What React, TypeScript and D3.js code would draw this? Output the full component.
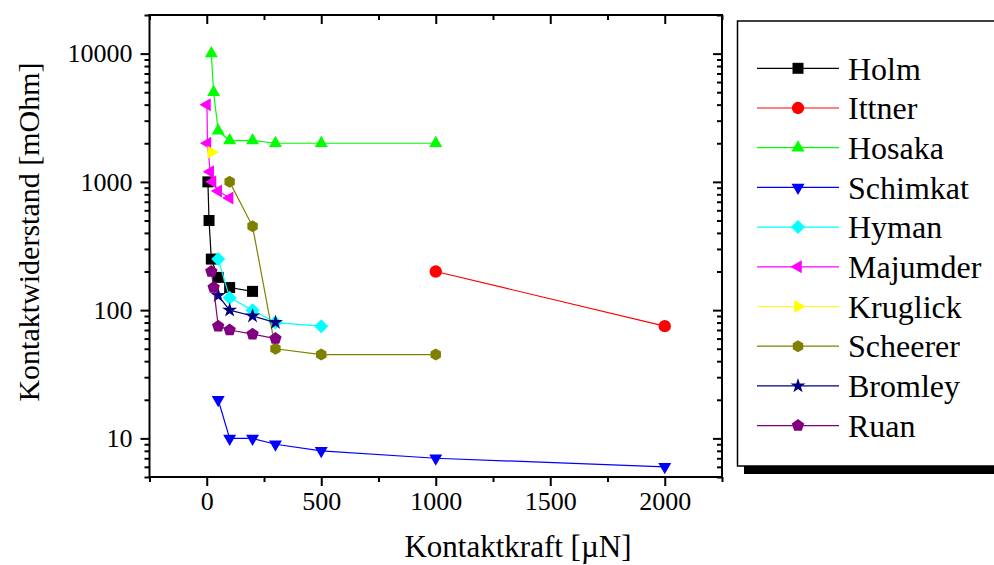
import React, { useEffect, useRef } from 'react';
import * as d3 from 'd3';

// series names and colours, in legend order
const names = ['Holm', 'Ittner', 'Hosaka', 'Schimkat', 'Hyman', 'Majumder', 'Kruglick', 'Scheerer', 'Bromley', 'Ruan'];
const colors = ['#000000', '#ff0000', '#00ff00', '#0000ff', '#00ffff', '#ff00ff', '#ffff00', '#808000', '#000080', '#800080'];
const shapes = ['square', 'circle', 'up', 'down', 'diamond', 'left', 'right', 'hexagon', 'star', 'pentagon'];

// [Kontaktkraft µN, Kontaktwiderstand mOhm]
const holm = [[5, 1000], [10, 500], [20, 250], [50, 180], [100, 150], [200, 140]];
const ittner = [[1000, 200], [2000, 75]];
const hosaka = [[20, 10000], [30, 5000], [50, 2500], [100, 2100], [200, 2100], [300, 2000], [500, 2000], [1000, 2000]];
const schimkat = [[50, 20], [100, 10], [200, 10], [300, 9], [500, 8], [1000, 7], [2000, 6]];
const hyman = [[50, 250], [100, 125], [200, 100], [300, 80], [500, 75]];
const majumder = [[1, 4000], [3, 2000], [15, 1200], [25, 1000], [50, 850], [100, 750]];
const kruglick = [[20, 1700]];
const scheerer = [[100, 1000], [200, 450], [300, 50], [500, 45], [1000, 45]];
const bromley = [[50, 130], [100, 100], [200, 90], [300, 80]];
const ruan = [[20, 200], [30, 150], [50, 75], [100, 70], [200, 65], [300, 60]];

const allSeries = [holm, ittner, hosaka, schimkat, hyman, majumder, kruglick, scheerer, bromley, ruan];

const xMajor = [0, 500, 1000, 1500, 2000];
const xMinor = [-250, 250, 750, 1250, 1750, 2250];
const yMajor = [10, 100, 1000, 10000];

const font = "'Liberation Serif', 'DejaVu Serif', 'Noto Serif', Tinos, FreeSerif, 'Times New Roman', Times, serif";

// regular polygon path around 0,0
function poly(n, r, start) {
    const pts = d3.range(n).map(i => {
        const a = start + (i * 2 * Math.PI) / n;
        return [r * Math.cos(a), r * Math.sin(a)];
    });
    return 'M' + pts.map(p => p.join(',')).join('L') + 'Z';
}

function markerPath(shape) {
    switch (shape) {
        case 'square': return 'M-5.5,-5.5H5.5V5.5H-5.5Z';
        case 'circle': return d3.symbol(d3.symbolCircle, 120)();
        case 'up': return poly(3, 7.5, -Math.PI / 2);
        case 'down': return poly(3, 7.5, Math.PI / 2);
        case 'left': return poly(3, 7.5, Math.PI);
        case 'right': return poly(3, 7.5, 0);
        case 'diamond': return poly(4, 7, 0);
        case 'hexagon': return poly(6, 6, -Math.PI / 2);
        case 'pentagon': return poly(5, 6.5, -Math.PI / 2);
        case 'star': return d3.symbol(d3.symbolStar, 70)();
        default: return '';
    }
}

function Chart() {
    const ref = useRef();

    useEffect(() => {
        const svg = d3.select(ref.current);
        svg.selectAll('*').remove();

        const left = 149.5, right = 722, top = 15, bottom = 477;

        const x = d3.scaleLinear().domain([-250, 2250]).range([left, right]);
        const y = d3.scaleLog().domain([5, 20000]).range([bottom, top]);

        const yMinor = [];
        [1, 10, 100, 1000, 10000].forEach(dec => {
            for (let k = 2; k <= 9; k++) {
                const v = k * dec;
                if (v >= 5 && v <= 20000 && !yMajor.includes(v)) yMinor.push(v);
            }
        });

        const styleAxis = g => {
            g.attr('font-family', null).style('font-family', font).attr('font-size', 26);
            g.select('.domain').remove();
            g.selectAll('line').attr('stroke', '#000').attr('stroke-width', 2);
            g.selectAll('text').attr('fill', '#000');
        };

        // bottom
        svg.append('g').attr('transform', `translate(0,${bottom})`)
            .call(d3.axisBottom(x).tickValues(xMajor).tickFormat(d3.format('d')).tickSizeInner(9).tickSizeOuter(0).tickPadding(6))
            .call(styleAxis);
        svg.append('g').attr('transform', `translate(0,${bottom})`)
            .call(d3.axisBottom(x).tickValues(xMinor).tickSizeInner(5).tickSizeOuter(0).tickFormat(''))
            .call(styleAxis);
        // top, ticks inward
        svg.append('g').attr('transform', `translate(0,${top})`)
            .call(d3.axisBottom(x).tickValues(xMajor).tickSizeInner(9).tickSizeOuter(0).tickFormat(''))
            .call(styleAxis);
        svg.append('g').attr('transform', `translate(0,${top})`)
            .call(d3.axisBottom(x).tickValues(xMinor).tickSizeInner(5).tickSizeOuter(0).tickFormat(''))
            .call(styleAxis);
        // left
        svg.append('g').attr('transform', `translate(${left},0)`)
            .call(d3.axisLeft(y).tickValues(yMajor).tickFormat(d3.format('d')).tickSizeInner(9).tickSizeOuter(0).tickPadding(8))
            .call(styleAxis);
        svg.append('g').attr('transform', `translate(${left},0)`)
            .call(d3.axisLeft(y).tickValues(yMinor).tickFormat('').tickSizeInner(5).tickSizeOuter(0))
            .call(styleAxis);
        // right, ticks inward
        svg.append('g').attr('transform', `translate(${right},0)`)
            .call(d3.axisLeft(y).tickValues(yMajor).tickFormat('').tickSizeInner(9).tickSizeOuter(0))
            .call(styleAxis);
        svg.append('g').attr('transform', `translate(${right},0)`)
            .call(d3.axisLeft(y).tickValues(yMinor).tickFormat('').tickSizeInner(5).tickSizeOuter(0))
            .call(styleAxis);

        // frame
        svg.append('rect')
            .attr('x', left).attr('y', top)
            .attr('width', right - left).attr('height', bottom - top)
            .attr('fill', 'none').attr('stroke', '#000').attr('stroke-width', 2);

        // series
        const line = d3.line().x(d => x(d[0])).y(d => y(d[1]));
        allSeries.forEach((data, i) => {
            const g = svg.append('g');
            g.append('path')
                .attr('d', line(data))
                .attr('fill', 'none')
                .attr('stroke', colors[i])
                .attr('stroke-width', 1.2);
            g.selectAll('path.m')
                .data(data)
                .enter()
                .append('path')
                .attr('class', 'm')
                .attr('transform', d => `translate(${x(d[0])},${y(d[1])})`)
                .attr('d', markerPath(shapes[i]))
                .attr('fill', colors[i]);
        });

        // axis titles
        svg.append('text')
            .attr('x', 518).attr('y', 557)
            .attr('text-anchor', 'middle')
            .style('font-family', font).attr('font-size', 31)
            .text('Kontaktkraft [µN]');
        svg.append('text')
            .attr('transform', 'translate(39,232) rotate(-90)')
            .attr('text-anchor', 'middle')
            .style('font-family', font).attr('font-size', 30)
            .text('Kontaktwiderstand [mOhm]');

        // legend box with shadow
        svg.append('rect')
            .attr('x', 744).attr('y', 466).attr('width', 260).attr('height', 8)
            .attr('fill', '#000');
        svg.append('rect')
            .attr('x', 737.5).attr('y', 21).attr('width', 270).attr('height', 445)
            .attr('fill', '#fff').attr('stroke', '#000').attr('stroke-width', 1.5);

        const legend = svg.append('g');
        names.forEach((name, i) => {
            const ly = 68.3 + i * 39.7;
            legend.append('line')
                .attr('x1', 757).attr('x2', 839).attr('y1', ly).attr('y2', ly)
                .attr('stroke', colors[i]).attr('stroke-width', 1.2);
            legend.append('path')
                .attr('transform', `translate(798,${ly})`)
                .attr('d', markerPath(shapes[i]))
                .attr('fill', colors[i]);
            legend.append('text')
                .attr('x', 848).attr('y', ly).attr('dy', '0.35em')
                .style('font-family', font).attr('font-size', 32)
                .text(name);
        });
    }, []);

    return (
        <svg ref={ref} width={994} height={565} style={{ position: 'absolute', left: 0, top: 0, background: '#fff' }}></svg>
    );
}

export default function App() {
    return <Chart />;
}
